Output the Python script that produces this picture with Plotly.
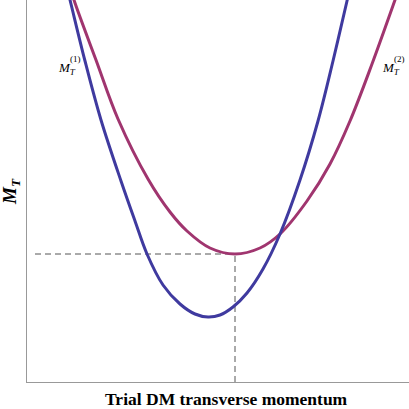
import plotly.graph_objects as go

# Curves (arbitrary units; no ticks shown)
blue_x = [38, 43, 58, 74, 94, 108, 120, 136, 153, 168, 181, 193, 206, 220, 236, 253, 273, 291, 306, 320, 325]
blue_y = [402, 382, 321, 262, 201, 161, 128, 97, 78, 68, 65, 67, 75, 89, 113, 148, 202, 261, 321, 381, 402]
red_x = [41, 47, 69, 91, 121, 143, 160, 183, 208, 233, 253, 280, 303, 323, 345, 368, 375]
red_y = [402, 382, 322, 263, 203, 170, 151, 134, 128, 134, 148, 181, 218, 261, 318, 382, 402]
label_main = "<i>M</i><sub><i>T</i></sub>"
label_sup = ["(1)", "(2)"]
x_title = "<b>Trial DM transverse momentum</b>"
y_title = "<b><i>M<sub>T</sub></i></b>"

imin = red_y.index(min(red_y))
mx, my = red_x[imin], red_y[imin]

fig = go.Figure()
fig.add_trace(go.Scatter(x=[8, mx], y=[my, my], mode="lines",
                         line=dict(color="#555555", width=1, dash="6px,4px"), hoverinfo="skip"))
fig.add_trace(go.Scatter(x=[mx, mx], y=[0, my], mode="lines",
                         line=dict(color="#555555", width=1, dash="6px,4px"), hoverinfo="skip"))
fig.add_trace(go.Scatter(x=red_x, y=red_y, mode="lines",
                         line=dict(color="#a0356f", width=3, shape="spline", smoothing=1.0)))
fig.add_trace(go.Scatter(x=blue_x, y=blue_y, mode="lines",
                         line=dict(color="#3f3a9f", width=3, shape="spline", smoothing=1.0)))

for (lx, ly, sup) in [(29, 314, label_sup[0]), (353, 314, label_sup[1])]:
    fig.add_annotation(x=lx, y=ly, text=label_main, showarrow=False, xref="x", yref="y",
                       xanchor="left", yanchor="middle",
                       font=dict(family="Liberation Serif", size=13, color="black"))
    fig.add_annotation(x=lx + 12, y=ly + 9, text=sup, showarrow=False, xref="x", yref="y",
                       xanchor="left", yanchor="middle",
                       font=dict(family="Liberation Serif", size=9, color="black"))

fig.add_annotation(x=199, y=0, xref="x", yref="paper", text=x_title, showarrow=False,
                   yanchor="top", yshift=-5,
                   font=dict(family="Liberation Serif", size=17.5, color="black"))
fig.add_annotation(x=0, y=0.5, xref="paper", yref="paper", text=y_title, showarrow=False,
                   textangle=-90, xanchor="center", xshift=-16, yshift=-1,
                   font=dict(family="Liberation Serif", size=19, color="black"))

fig.update_layout(
    width=409, height=409,
    margin=dict(l=27, r=0, t=0, b=27),
    paper_bgcolor="white", plot_bgcolor="white",
    showlegend=False,
    xaxis=dict(range=[0, 382], showgrid=False, zeroline=False, showticklabels=False, ticks="",
               showline=True, linecolor="#999999", linewidth=1),
    yaxis=dict(range=[0, 382], showgrid=False, zeroline=False, showticklabels=False, ticks="",
               showline=True, linecolor="#999999", linewidth=1),
)
fig.write_html("out.html", config={"displayModeBar": False},
               post_script="document.body.style.margin='0px';")
